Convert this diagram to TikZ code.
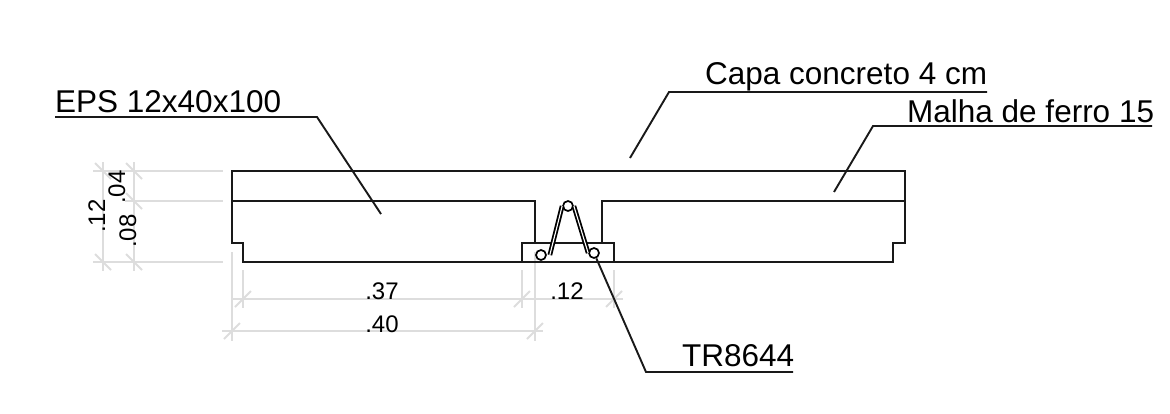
\documentclass[tikz,border=0pt]{standalone}
\usepackage{fontspec}
\setmainfont{Liberation Sans}
\definecolor{dimgrey}{HTML}{DDDDDD}
\tikzset{
  outline/.style={line width=2pt,black!90},
  rebar/.style={line width=1.8pt,double=white,double distance=1.1pt},
  leader/.style={line width=1.9pt,black!90},
  dimline/.style={line width=2pt,dimgrey},
  calltext/.style={anchor=base west,inner sep=0pt,font=\fontsize{31.5}{36}\selectfont},
  dimtext/.style={anchor=base,inner sep=0pt,font=\fontsize{24}{28}\selectfont},
  wire/.style={circle,draw,line width=1.7pt,fill=white,inner sep=0pt,minimum size=10pt}
}
\begin{document}
\begin{tikzpicture}[x=1pt,y=-1pt]
    \useasboundingbox (0,0) rectangle (1170,413);

    % grey dimension lines
    \draw[dimline] (93,171) -- (223,171);
    \draw[dimline] (125,201) -- (223,201);
    \draw[dimline] (93,262) -- (223,262);
    \draw[dimline] (103,162) -- (103,271);
    \draw[dimline] (134,162) -- (134,271);
    \draw[dimline] (233,299) -- (623,299);
    \draw[dimline] (222,331) -- (543,331);
    \draw[dimline] (232,252) -- (232,341);
    \draw[dimline] (243,270) -- (243,308);
    \draw[dimline] (522,270) -- (522,308);
    \draw[dimline] (614,270) -- (614,308);
    \draw[dimline] (535,252) -- (535,341);
    \foreach \tx/\ty in {103/171,134/171,134/201,103/262,134/262}
        \draw[dimline] (\tx-8,\ty-8) -- (\tx+8,\ty+8);
    \foreach \tx/\ty in {243/299,522/299,614/299,232/331,535/331}
        \draw[dimline] (\tx-8,\ty+8) -- (\tx+8,\ty-8);

    % section
    \draw[outline] (232,201) -- (232,171) -- (905,171) -- (905,243) -- (893,243) -- (893,262) -- (243,262) -- (243,243) -- (232,243) -- cycle;
    \draw[outline] (232,201) -- (535,201) -- (535,243);
    \draw[outline] (905,201) -- (602,201) -- (602,243);
    \draw[outline] (522,262) -- (522,243) -- (614,243) -- (614,262);

    % labels
    \node[calltext] at (55,112) (eps){EPS 12x40x100};
    \node[calltext] at (705,84.5) (capa){Capa concreto 4 cm};
    \begin{scope}
        \clip (0,0) rectangle (1152,413);
        \node[calltext] at (907,122) (malha){Malha de ferro 15};
    \end{scope}
    \node[calltext] at (682,366) (tr){TR8644};
    \node[dimtext] at (382,299.5) (d37){.37};
    \node[dimtext] at (382,332.5) (d40){.40};
    \node[dimtext] at (567,299.5) (d12){.12};
    \node[dimtext,rotate=90] at (105,216) (h12){.12};
    \node[dimtext,rotate=90] at (125,187) (h04){.04};
    \node[dimtext,rotate=90] at (136,231) (h08){.08};

    % leaders
    \coordinate (eps_1) at (55,117);
    \coordinate (eps_2) at (317,117);
    \coordinate (eps_3) at (381,214);
    \coordinate (capa_1) at (987,92);
    \coordinate (capa_2) at (669,92);
    \coordinate (capa_3) at (630,158);
    \coordinate (malha_1) at (1152,126);
    \coordinate (malha_2) at (873,126);
    \coordinate (malha_3) at (834,192);
    \coordinate (tr_1) at (793,372);
    \coordinate (tr_2) at (646,372);
    \draw[leader] (eps_1) -- (eps_2) -- (eps_3);
    \draw[leader] (capa_1) -- (capa_2) -- (capa_3);
    \draw[leader] (malha_1) -- (malha_2) -- (malha_3);

    % truss
    \node[wire] at (568,206) (wiretop){};
    \node[wire] at (541,255) (wireleft){};
    \node[wire] at (594,253) (wireright){};
    \draw[rebar] ([xshift=3pt]wireleft.east) -- (wiretop.west);
    \draw[rebar] (wiretop.east) -- (wireright.west);
    \draw[leader] (tr_1) -- (tr_2) -- (wireright);
\end{tikzpicture}
\end{document}
